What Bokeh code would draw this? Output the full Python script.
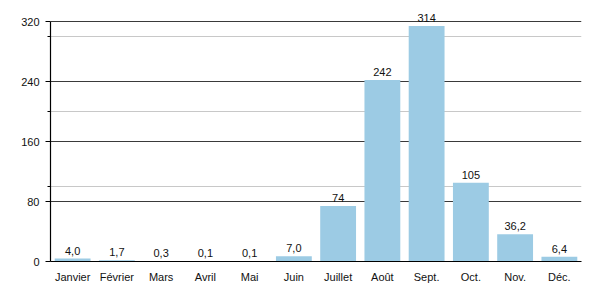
from bokeh.plotting import figure
from bokeh.models import ColumnDataSource, FixedTicker, FactorRange, Range1d
from bokeh.core.properties import value
from bokeh.embed import file_html
from bokeh.resources import INLINE

months = ["Janvier", "Février", "Mars", "Avril", "Mai", "Juin", "Juillet",
          "Août", "Sept.", "Oct.", "Nov.", "Déc."]
values = [4.0, 1.7, 0.3, 0.1, 0.1, 7.0, 74, 242, 314, 105, 36.2, 6.4]
value_labels = ["4,0", "1,7", "0,3", "0,1", "0,1", "7,0", "74", "242", "314",
                "105", "36,2", "6,4"]
major_ticks = [0, 80, 160, 240, 320]
minor_ticks = [100, 200, 300]

src = ColumnDataSource(dict(m=months, v=values, lab=value_labels))

p = figure(width=600, height=300, x_range=FactorRange(*months),
           y_range=Range1d(0, 340), output_backend="svg", toolbar_location=None,
           min_border_left=50, min_border_right=19, min_border_top=6,
           min_border_bottom=39)
p.outline_line_color = None
p.background_fill_color = "white"
p.border_fill_color = "white"

p.vbar(x="m", top="v", width=0.81, source=src, color="#9ccbe4", line_color=None)
p.text(x="m", y="v", text="lab", source=src, text_align="center",
       text_baseline="bottom", y_offset=-4, text_font=value("Liberation Sans"),
       text_font_size="11px", text_color="#111111")

ticker = FixedTicker(ticks=major_ticks, minor_ticks=minor_ticks)
p.yaxis.ticker = ticker
p.yaxis.bounds = (0, 320)
p.ygrid.ticker = ticker
p.ygrid.bounds = (0, 320)
p.ygrid.grid_line_color = "#3a3a3a"
p.ygrid.grid_line_width = 1
p.ygrid.minor_grid_line_color = "#c8c8c8"
p.xgrid.grid_line_color = None

for ax in (p.xaxis, p.yaxis):
    ax.axis_line_color = "black"
    ax.axis_line_width = 1.2
    ax.major_label_text_font = "Liberation Sans"
    ax.major_label_text_font_size = "11px"
    ax.major_label_text_color = "#111111"

p.yaxis.major_tick_out = 5
p.yaxis.major_tick_in = 0
p.yaxis.minor_tick_out = 3
p.yaxis.minor_tick_in = 0
p.yaxis.major_tick_line_color = "black"
p.yaxis.minor_tick_line_color = "black"
p.yaxis.major_label_standoff = 6

p.xaxis.major_tick_line_color = None
p.xaxis.minor_tick_line_color = None
p.xaxis.major_label_standoff = 3

open("out.html", "w").write(file_html(p, INLINE))
